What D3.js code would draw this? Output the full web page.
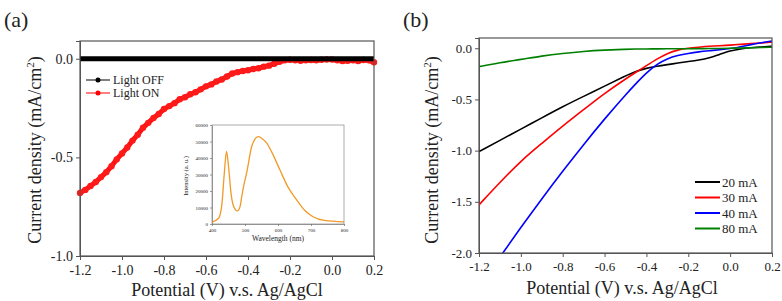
<!DOCTYPE html>
<html lang="en">
<head>
<meta charset="UTF-8">
<title>Photocurrent curves</title>
<style>
  body { margin: 0; background: #fff; }
  svg { display: block; font-family: "Liberation Serif", "Times New Roman", "DejaVu Serif", serif; }
  .axis path, .axis line { stroke: #555; }
  .axis text { fill: #222; font-family: "Liberation Serif", "Times New Roman", serif; }
</style>
</head>
<body>
<svg id="chart" width="782" height="301"></svg>
<script src="https://d3js.org/d3.v7.min.js"></script>
<script>
// ---- panel (a) data ----
const potA = d3.range(57).map(i => +(-1.2 + i * 0.025).toFixed(3));
const lightOn = [-0.68, -0.665, -0.645, -0.625, -0.60, -0.575, -0.545, -0.51, -0.48, -0.45,
  -0.415, -0.385, -0.35, -0.325, -0.30, -0.28, -0.255, -0.24, -0.225, -0.205,
  -0.195, -0.18, -0.17, -0.155, -0.14, -0.13, -0.115, -0.105, -0.09, -0.075,
  -0.068, -0.062, -0.058, -0.052, -0.048, -0.04, -0.035, -0.025, -0.015, -0.008,
  -0.005, -0.008, -0.01, -0.008, -0.006, -0.008, -0.005, -0.004, -0.004, -0.008,
  -0.012, -0.01, -0.008, -0.012, -0.006, -0.008, -0.018];
const lightOff = potA.map(() => 0);

// inset spectrum
const wavelength = [400, 420, 430, 437, 444, 450, 458, 467, 477, 485, 490, 497, 505, 520, 530, 540, 550, 566, 580, 606, 630, 657, 680, 706, 740, 800];
const intensity = [1200, 3500, 12000, 30000, 44000, 35000, 18000, 10000, 7900, 10500, 16500, 24000, 31000, 46800, 51500, 53000, 52000, 49000, 44000, 32700, 22500, 14500, 8500, 4400, 2200, 1300];

// ---- panel (b) data ----
const potB = [-1.2, -1.1, -1.0, -0.9, -0.8, -0.7, -0.6, -0.5, -0.45, -0.4, -0.35, -0.3, -0.25, -0.2, -0.15, -0.1, -0.05, 0.0, 0.05, 0.1, 0.15, 0.2];
const seriesB = [
  { name: "20 mA", color: "#000000", values: [-1.01, -0.9, -0.79, -0.68, -0.57, -0.47, -0.37, -0.27, -0.225, -0.195, -0.175, -0.16, -0.145, -0.13, -0.115, -0.095, -0.06, -0.025, -0.005, 0.005, 0.012, 0.02] },
  { name: "30 mA", color: "#ff0000", values: [-1.53, -1.31, -1.10, -0.93, -0.76, -0.60, -0.44, -0.30, -0.235, -0.17, -0.105, -0.05, -0.015, 0.0, 0.01, 0.02, 0.025, 0.03, 0.038, 0.045, 0.052, 0.06] },
  { name: "40 mA", color: "#0000ff", values: [-2.33, -2.04, -1.75, -1.47, -1.2, -0.94, -0.69, -0.455, -0.345, -0.24, -0.155, -0.1, -0.07, -0.05, -0.035, -0.025, -0.015, -0.005, 0.015, 0.035, 0.055, 0.07] },
  { name: "80 mA", color: "#008000", values: [-0.18, -0.14, -0.11, -0.075, -0.05, -0.03, -0.018, -0.01, -0.008, -0.007, -0.006, -0.005, -0.005, -0.005, -0.004, -0.003, -0.002, 0.0, 0.003, 0.005, 0.008, 0.01] }
];

const svg = d3.select("#chart");

function frame(g, x, y, color, width) {
  const [x0, x1] = x.range(), [y0, y1] = y.range();
  g.append("rect").attr("x", x0).attr("y", y1).attr("width", x1 - x0).attr("height", y0 - y1)
    .attr("fill", "none").attr("stroke", color || "#555").attr("stroke-width", width || 1.2);
}
const fmt = d => d3.format(".1f")(Math.abs(d) < 1e-9 ? 0 : d).replace("−", "-");

// ================= panel (a) =================
const xA = d3.scaleLinear().domain([-1.2, 0.2]).range([80, 374]);
const yA = d3.scaleLinear().domain([-1.0, 0.09]).range([256, 41]);
const gA = svg.append("g");

gA.append("g").attr("class", "axis").attr("transform", "translate(0,256)")
  .call(d3.axisBottom(xA).tickValues(d3.range(-1.2, 0.21, 0.2)).tickSizeOuter(0).tickSize(4).tickPadding(5))
  .call(g => g.selectAll("text").style("font-size", "14px").text(fmt));
gA.append("g").attr("class", "axis").attr("transform", "translate(80,0)")
  .call(d3.axisLeft(yA).tickValues([-1.0, -0.5, 0.0]).tickSizeOuter(0).tickSize(4).tickPadding(3))
  .call(g => g.selectAll("text").style("font-size", "14px").text(fmt));

const lineA = d3.line().x((d, i) => xA(potA[i])).y(d => yA(d));
gA.append("path").datum(lightOn).attr("d", lineA).attr("fill", "none").attr("stroke", "#ff1010").attr("stroke-width", 5);
gA.selectAll(".on").data(lightOn).join("circle").attr("class", "on")
  .attr("cx", (d, i) => xA(potA[i])).attr("cy", d => yA(d)).attr("r", 3.2).attr("fill", "#ff1a1a");
gA.append("path").datum(lightOff).attr("d", lineA).attr("fill", "none").attr("stroke", "#000").attr("stroke-width", 5);
frame(gA, xA, yA);

// legend (a)
[["Light OFF", "#000"], ["Light ON", "#ff0000"]].forEach(([t, c], i) => {
  const yy = 80 + i * 13;
  gA.append("line").attr("x1", 86).attr("x2", 110).attr("y1", yy).attr("y2", yy).attr("stroke", c).attr("stroke-width", 1);
  gA.append("circle").attr("cx", 98).attr("cy", yy).attr("r", 2.5).attr("fill", c);
  gA.append("text").attr("x", 113).attr("y", yy + 4).attr("font-size", 12).attr("fill", "#222").text(t);
});

gA.append("text").attr("x", 227).attr("y", 296).attr("text-anchor", "middle").attr("font-size", 18).attr("fill", "#222")
  .text("Potential (V) v.s. Ag/AgCl");
gA.append("text").attr("transform", "translate(41,150) rotate(-90)").attr("text-anchor", "middle").attr("font-size", 18).attr("fill", "#222")
  .html('Current density (mA/cm<tspan dy="-7" font-size="11">2</tspan><tspan dy="7">)</tspan>');
gA.append("text").attr("x", 4).attr("y", 27).attr("font-size", 22).attr("fill", "#222").text("(a)");

// inset
const xI = d3.scaleLinear().domain([400, 800]).range([212, 344]);
const yI = d3.scaleLinear().domain([0, 60000]).range([224, 125]);
const gI = svg.append("g");
gI.append("rect").attr("x", 212).attr("y", 125).attr("width", 132).attr("height", 99).attr("fill", "#fff");
gI.append("g").attr("class", "axis").attr("transform", "translate(0,224)")
  .call(d3.axisBottom(xI).tickValues([400, 500, 600, 700, 800]).tickSize(2).tickSizeOuter(0).tickPadding(2))
  .call(g => g.selectAll("text").style("font-size", "5px"));
gI.append("g").attr("class", "axis").attr("transform", "translate(212,0)")
  .call(d3.axisLeft(yI).tickValues(d3.range(0, 60001, 10000)).tickFormat(d3.format("d")).tickSize(2).tickSizeOuter(0).tickPadding(2))
  .call(g => g.selectAll("text").style("font-size", "5px"));
gI.selectAll(".axis path, .axis line").attr("stroke-width", 0.6);
gI.append("path").datum(intensity)
  .attr("d", d3.line().x((d, i) => xI(wavelength[i])).y(d => yI(d)).curve(d3.curveMonotoneX))
  .attr("fill", "none").attr("stroke", "#f09a28").attr("stroke-width", 1.3);
frame(gI, xI, yI, "#888", 0.7);
gI.append("text").attr("x", 278).attr("y", 241).attr("text-anchor", "middle").attr("font-size", 7.5).attr("fill", "#222").text("Wavelength (nm)");
gI.append("text").attr("transform", "translate(188,176) rotate(-90)").attr("text-anchor", "middle").attr("font-size", 6.5).attr("fill", "#222").text("Intensity (a. u.)");

// ================= panel (b) =================
const xB = d3.scaleLinear().domain([-1.2, 0.2]).range([479, 772]);
const yB = d3.scaleLinear().domain([-2.0, 0.1]).range([253, 38]);
const gB = svg.append("g");
gB.append("clipPath").attr("id", "clipB").append("rect")
  .attr("x", 479).attr("y", 38).attr("width", 293).attr("height", 215);

gB.append("g").attr("class", "axis").attr("transform", "translate(0,253)")
  .call(d3.axisBottom(xB).tickValues(d3.range(-1.2, 0.21, 0.2)).tickSizeOuter(0).tickSize(4).tickPadding(5))
  .call(g => g.selectAll("text").style("font-size", "13px").text(fmt));
gB.append("g").attr("class", "axis").attr("transform", "translate(479,0)")
  .call(d3.axisLeft(yB).tickValues([-2.0, -1.5, -1.0, -0.5, 0.0]).tickSizeOuter(0).tickSize(4).tickPadding(3))
  .call(g => g.selectAll("text").style("font-size", "13px").text(fmt));

const lineB = d3.line().x((d, i) => xB(potB[i])).y(d => yB(d)).curve(d3.curveBasis);
seriesB.forEach(s => {
  gB.append("path").datum(s.values).attr("d", lineB).attr("clip-path", "url(#clipB)")
    .attr("fill", "none").attr("stroke", s.color).attr("stroke-width", 1.6);
});
frame(gB, xB, yB);

seriesB.forEach((s, i) => {
  const yy = 182 + i * 15.5;
  gB.append("line").attr("x1", 695).attr("x2", 720).attr("y1", yy).attr("y2", yy).attr("stroke", s.color).attr("stroke-width", 2);
  gB.append("text").attr("x", 722).attr("y", yy + 4.5).attr("font-size", 13).attr("fill", "#222").text(s.name);
});

gB.append("text").attr("x", 622).attr("y", 294).attr("text-anchor", "middle").attr("font-size", 18).attr("fill", "#222")
  .text("Potential (V) v.s. Ag/AgCl");
gB.append("text").attr("transform", "translate(438,150) rotate(-90)").attr("text-anchor", "middle").attr("font-size", 18).attr("fill", "#222")
  .html('Current density (mA/cm<tspan dy="-7" font-size="11">2</tspan><tspan dy="7">)</tspan>');
gB.append("text").attr("x", 403).attr("y", 27).attr("font-size", 22).attr("fill", "#222").text("(b)");
</script>
</body>
</html>
